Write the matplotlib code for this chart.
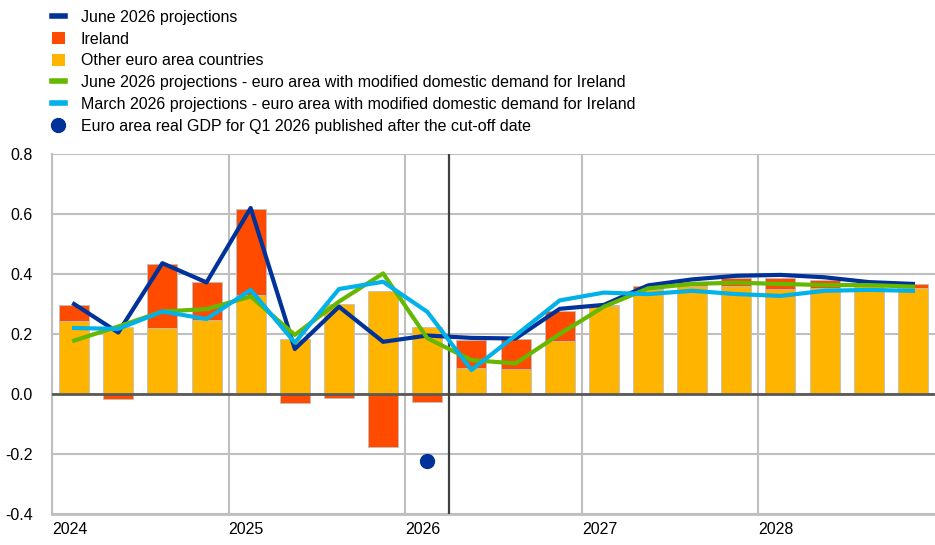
import matplotlib.pyplot as plt
import matplotlib.transforms as mtransforms
from matplotlib.lines import Line2D
from matplotlib.patches import Patch
import numpy as np

plt.rcParams['font.family'] = ['Liberation Sans', 'DejaVu Sans']

# quarterly data, 2024Q1 - 2028Q4
other_countries = [0.242, 0.223, 0.219, 0.246, 0.330, 0.182, 0.301, 0.343, 0.222, 0.088,
                   0.083, 0.177, 0.292, 0.350, 0.360, 0.360, 0.350, 0.355, 0.368, 0.352]
ireland = [0.056, -0.018, 0.214, 0.127, 0.287, -0.031, -0.014, -0.176, -0.028, 0.092,
           0.102, 0.100, 0.005, 0.011, 0.015, 0.026, 0.036, 0.025, 0.002, 0.014]
june_proj = [0.300, 0.205, 0.436, 0.372, 0.620, 0.150, 0.291, 0.174, 0.195, 0.187,
             0.185, 0.284, 0.297, 0.362, 0.382, 0.394, 0.397, 0.389, 0.373, 0.367]
june_mod = [0.178, 0.225, 0.275, 0.283, 0.325, 0.197, 0.308, 0.402, 0.186, 0.113,
            0.102, 0.200, 0.291, 0.352, 0.367, 0.371, 0.367, 0.363, 0.363, 0.358]
march_mod = [0.220, 0.217, 0.275, 0.250, 0.347, 0.171, 0.350, 0.374, 0.274, 0.080,
             0.195, 0.312, 0.338, 0.333, 0.344, 0.333, 0.327, 0.344, 0.347, 0.344]
q1_2026_quarter = 8
q1_2026_gdp = -0.222
cutoff_quarter = 9
years = ['2024', '2025', '2026', '2027', '2028']

DARK_BLUE = '#003299'
RED = '#FF4B00'
YELLOW = '#FFB400'
GREEN = '#65B800'
LIGHT_BLUE = '#00B1EA'
GRID = '#BFBFBF'

fig = plt.figure(figsize=(9.35, 5.45), dpi=100)
ax = fig.add_axes([52 / 935, 1 - 514 / 545, 883 / 935, 360 / 545])

x = np.arange(len(other_countries)) + 0.5
other = np.array(other_countries)
irl = np.array(ireland)
irl_bottom = np.where(irl >= 0, other, 0)

ax.bar(x, other, width=0.68, color=YELLOW, edgecolor=GRID, linewidth=0.6, zorder=2)
ax.bar(x, irl, bottom=irl_bottom, width=0.68, color=RED, edgecolor=GRID,
       linewidth=0.6, zorder=2)

ax.axhline(0, color='#595959', linewidth=2, zorder=3)
ax.axvline(cutoff_quarter, color='#404040', linewidth=1.6, zorder=3)

ax.plot(x, june_proj, color=DARK_BLUE, linewidth=3, zorder=4)
ax.plot(x, june_mod, color=GREEN, linewidth=3, zorder=5)
ax.plot(x, march_mod, color=LIGHT_BLUE, linewidth=3, zorder=6)
ax.plot(q1_2026_quarter + 0.5, q1_2026_gdp, 'o', color=DARK_BLUE, markersize=10, zorder=7)

ax.set_xlim(0, 20)
ax.set_ylim(-0.4, 0.8)
ax.set_yticks(np.arange(-0.4, 0.81, 0.2))
ax.set_yticklabels([f'{v:.1f}' for v in np.arange(-0.4, 0.81, 0.2)])
ax.set_xticks(np.arange(0, 20, 4))
ax.set_xticklabels(years)
offset = mtransforms.ScaledTranslation(5 / 100, 0, fig.dpi_scale_trans)
for lbl in ax.get_xticklabels():
    lbl.set_horizontalalignment('left')
    lbl.set_transform(lbl.get_transform() + offset)

ax.tick_params(axis='both', length=0, labelsize=11.5, colors='#000000')
ax.tick_params(axis='y', pad=14)
ax.tick_params(axis='x', pad=6)
ax.grid(True, color=GRID, linewidth=1.5, zorder=0)
ax.set_axisbelow(True)
for side in ['top', 'right']:
    ax.spines[side].set_visible(False)
ax.spines['left'].set_color(GRID)
ax.spines['left'].set_linewidth(1.5)
ax.spines['bottom'].set_color(GRID)
ax.spines['bottom'].set_linewidth(2)

handles = [
    Line2D([], [], color=DARK_BLUE, linewidth=4),
    Patch(facecolor=RED),
    Patch(facecolor=YELLOW),
    Line2D([], [], color=GREEN, linewidth=4),
    Line2D([], [], color=LIGHT_BLUE, linewidth=4),
    Line2D([], [], marker='o', color=DARK_BLUE, linestyle='none', markersize=10),
]
labels = [
    'June 2026 projections',
    'Ireland',
    'Other euro area countries',
    'June 2026 projections - euro area with modified domestic demand for Ireland',
    'March 2026 projections - euro area with modified domestic demand for Ireland',
    'Euro area real GDP for Q1 2026 published after the cut-off date',
]
fig.legend(handles, labels, loc='upper left', bbox_to_anchor=(52 / 935, 1 - 10 / 545),
           frameon=False, fontsize=11.5, handlelength=0.8, handleheight=0.8,
           handletextpad=1.0, labelspacing=0.42, borderaxespad=0, borderpad=0)

fig.savefig('out.png', dpi=100)
